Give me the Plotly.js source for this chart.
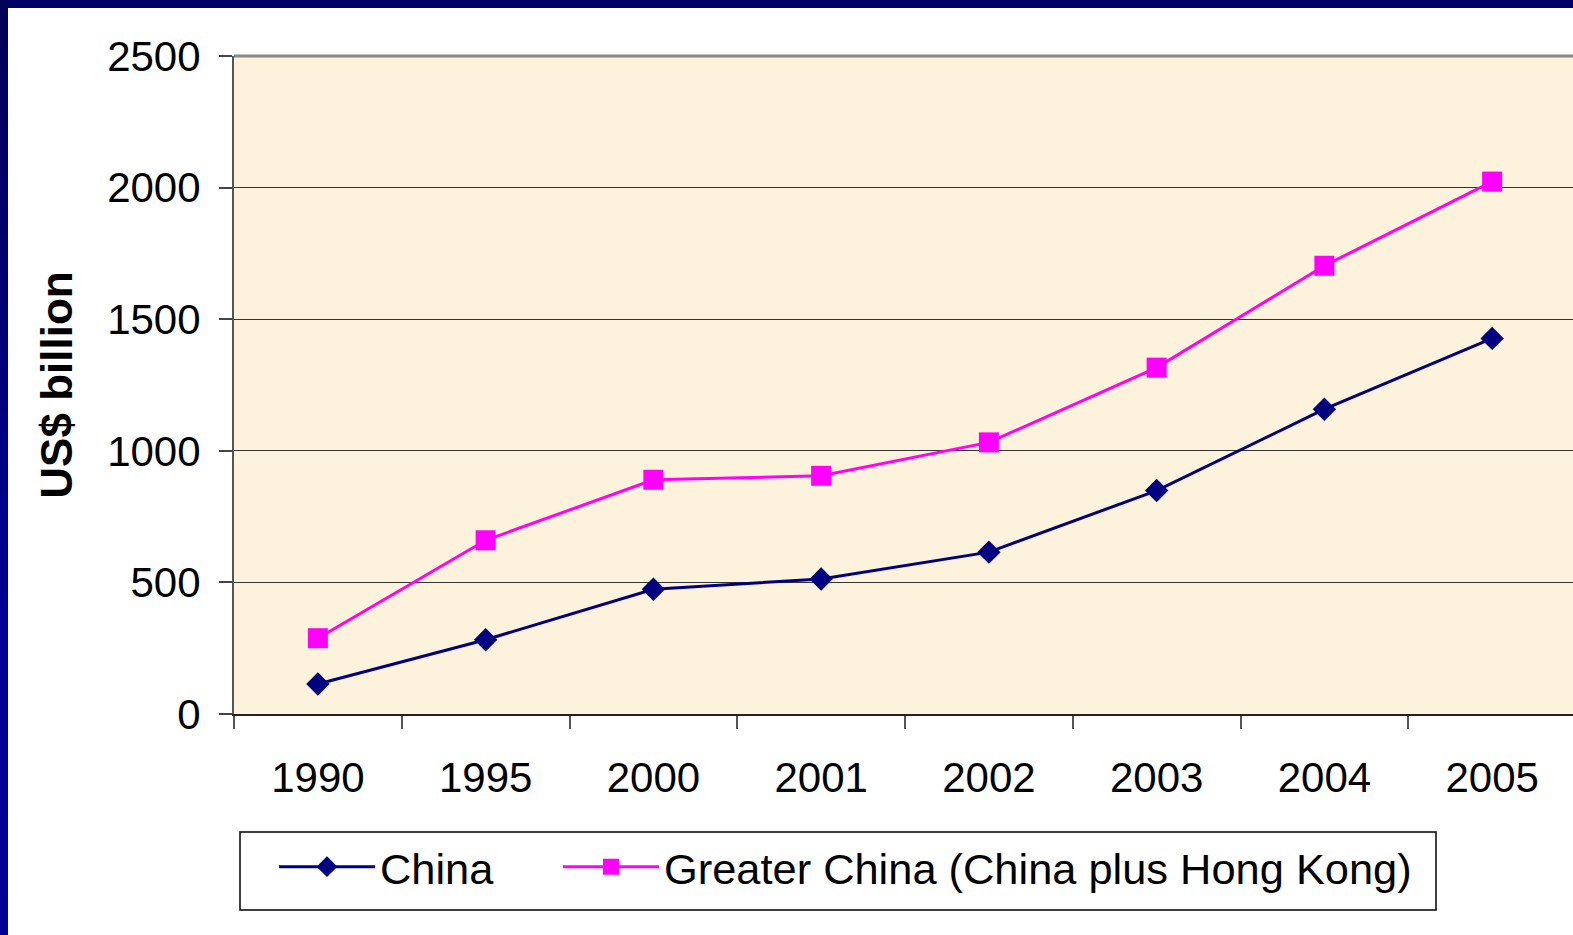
<!DOCTYPE html>
<html>
<head>
<meta charset="utf-8">
<script src="https://cdn.plot.ly/plotly-3.0.1.min.js"></script>
<style>
  html, body { margin: 0; padding: 0; overflow: hidden; background: #ffffff; width: 1573px; height: 935px; }
  #chart { position: absolute; left: 0; top: 0; }
  .edge-top { position: absolute; left: 0; top: 0; width: 1573px; height: 8px; background: #000066; z-index: 5; }
  .edge-left { position: absolute; left: 0; top: 0; width: 8px; height: 935px; background: linear-gradient(#000055, #00008f 60%, #000099); z-index: 5; }
</style>
</head>
<body>
<div id="chart"></div>
<div class="edge-top"></div>
<div class="edge-left"></div>
<script>
// Trade volume, US$ billion
const years = ['1990', '1995', '2000', '2001', '2002', '2003', '2004', '2005'];
const chinaValues = [114, 282, 474, 513, 615, 849, 1158, 1427];
const greaterChinaValues = [288, 660, 890, 905, 1032, 1316, 1703, 2023];
const seriesNames = ['China', 'Greater China (China plus Hong Kong)'];
const yTicks = [0, 500, 1000, 1500, 2000, 2500];

const FONT = 'Arial, "Liberation Sans", sans-serif';

const traces = [
  {
    x: years, y: chinaValues, name: seriesNames[0],
    type: 'scatter', mode: 'lines+markers',
    line: { color: '#000080', width: 3 },
    marker: { symbol: 'diamond', size: 18, color: '#000080' },
    legend: 'legend'
  },
  {
    x: years, y: greaterChinaValues, name: seriesNames[1],
    type: 'scatter', mode: 'lines+markers',
    line: { color: '#FF00FF', width: 3 },
    marker: { symbol: 'square', size: 20, color: '#FF00FF' },
    legend: 'legend2'
  }
];

// plot area: 234..1576 px wide, 56..714 px tall
const PL = 234, PR = 1576, PT = 56, PB = 714;
const px = v => (v - PL) / (PR - PL);
const py = v => (PB - v) / (PB - PT);

const legendStyle = (left) => ({
  orientation: 'h',
  x: px(left), xanchor: 'left',
  y: py(832), yanchor: 'top',
  bgcolor: 'rgba(0,0,0,0)', borderwidth: 0,
  font: { family: FONT, size: 43.4, color: '#000000' },
  itemwidth: 96,
  itemclick: false, itemdoubleclick: false
});

const layout = {
  width: 1578, height: 935,
  margin: { l: PL, r: 1578 - PR, t: PT, b: 935 - PB, pad: 0 },
  paper_bgcolor: '#ffffff',
  plot_bgcolor: '#FDF2DC',
  font: { family: FONT, color: '#000000', size: 42 },
  showlegend: true,
  xaxis: {
    type: 'category',
    range: [-0.5, years.length - 0.5],
    tickson: 'boundaries',
    ticks: 'outside', ticklen: 13, tickwidth: 2, tickcolor: '#555555',
    showline: true, linecolor: '#222222', linewidth: 2,
    showgrid: false, zeroline: false,
    tickfont: { family: FONT, size: 42, color: '#000000' },
    ticklabelstandoff: 26,
    fixedrange: true
  },
  yaxis: {
    range: [0, 2500],
    tickvals: yTicks,
    ticks: 'outside', ticklen: 13, tickwidth: 2, tickcolor: '#444444',
    showline: true, linecolor: '#555555', linewidth: 2,
    showgrid: true, gridcolor: '#333333', gridwidth: 1,
    zeroline: false,
    tickfont: { family: FONT, size: 42, color: '#000000' },
    ticklabelstandoff: 10,
    title: { text: 'US$ billion', font: { family: FONT, size: 44, color: '#000000', weight: 'bold' }, standoff: 21 },
    fixedrange: true
  },
  legend: legendStyle(274),
  legend2: legendStyle(558),
  shapes: [
    { type: 'line', xref: 'paper', yref: 'paper', x0: 0, x1: 1, y0: 1, y1: 1,
      line: { color: '#888888', width: 3 } },
    { type: 'rect', xref: 'paper', yref: 'paper', layer: 'below',
      x0: px(240), x1: px(1436), y0: py(832), y1: py(910),
      fillcolor: '#ffffff', line: { color: '#000000', width: 1.5 } }
  ]
};

Plotly.newPlot('chart', traces, layout, { displayModeBar: false, staticPlot: true });
</script>
</body>
</html>
